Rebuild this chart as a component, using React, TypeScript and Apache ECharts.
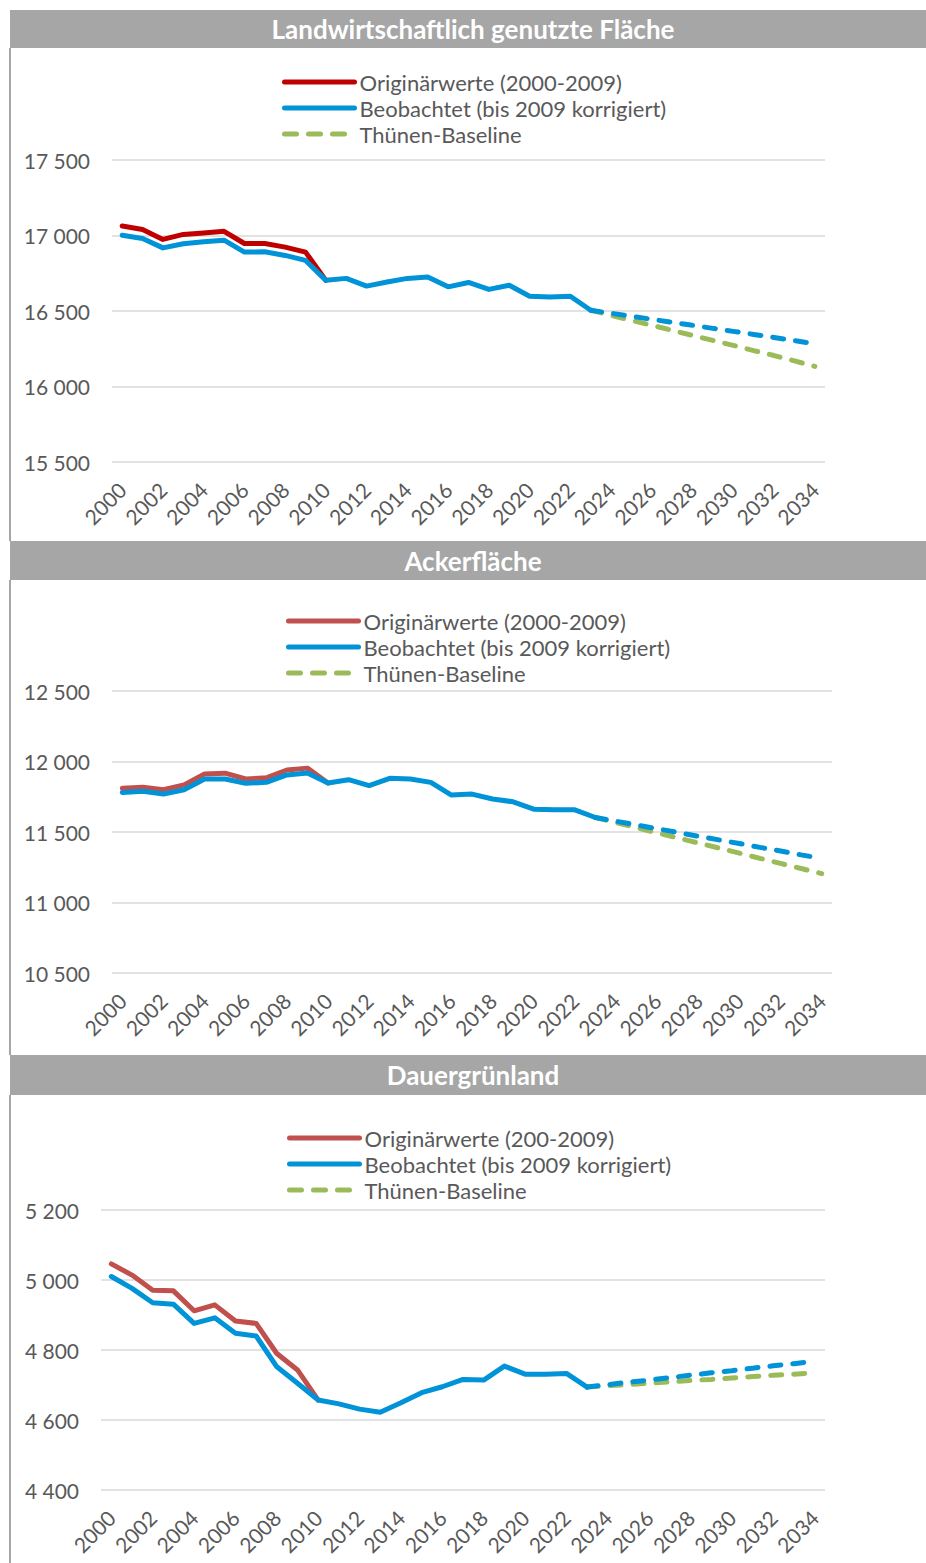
import React, { useEffect, useRef } from "react";
import * as echarts from "echarts";

const years = [
  "2000", "2001", "2002", "2003", "2004", "2005", "2006", "2007", "2008", "2009",
  "2010", "2011", "2012", "2013", "2014", "2015", "2016", "2017", "2018", "2019",
  "2020", "2021", "2022", "2023", "2024", "2025", "2026", "2027", "2028", "2029",
  "2030", "2031", "2032", "2033", "2034",
];

// Landwirtschaftlich genutzte Fläche (1000 ha)
const lfOriginal = [17063, 17040, 16974, 17007, 17017, 17028, 16947, 16947, 16923, 16890, 16703];
const lfObserved = [
  17002, 16980, 16918, 16945, 16958, 16969, 16890, 16892, 16868, 16835, 16703, 16716,
  16665, 16692, 16716, 16725, 16660, 16689, 16643, 16671, 16598, 16593, 16598, 16505,
];
const lfTrend = [16505, 16485, 16465, 16445, 16425, 16405, 16385, 16365, 16345, 16325, 16304, 16283];
const lfBaseline = [16505, 16471, 16438, 16405, 16372, 16338, 16305, 16272, 16238, 16205, 16170, 16133];

// Ackerfläche
const afOriginal = [11810, 11817, 11800, 11834, 11912, 11917, 11876, 11884, 11940, 11953, 11848];
const afObserved = [
  11781, 11789, 11769, 11800, 11876, 11876, 11845, 11852, 11905, 11919, 11848, 11871,
  11829, 11881, 11876, 11852, 11762, 11769, 11734, 11714, 11662, 11657, 11657, 11603,
];
const afTrend = [11603, 11576, 11550, 11523, 11497, 11470, 11444, 11418, 11391, 11365, 11338, 11312];
const afBaseline = [11603, 11567, 11531, 11494, 11458, 11422, 11386, 11350, 11313, 11277, 11241, 11205];

// Dauergrünland
const dgOriginal = [5046, 5014, 4971, 4969, 4912, 4929, 4883, 4876, 4790, 4743, 4657];
const dgObserved = [
  5010, 4976, 4935, 4931, 4876, 4892, 4848, 4840, 4752, 4705, 4657, 4646,
  4631, 4622, 4649, 4678, 4695, 4716, 4714, 4754, 4731, 4731, 4733, 4694,
];
const dgTrend = [4694, 4701, 4708, 4714, 4721, 4728, 4735, 4741, 4748, 4755, 4761, 4768];
const dgBaseline = [4694, 4698, 4701, 4705, 4709, 4713, 4716, 4720, 4724, 4728, 4731, 4735];

const titles = ["Landwirtschaftlich genutzte Fläche", "Ackerfläche", "Dauergrünland"];
const originalNames = ["Originärwerte (2000-2009)", "Originärwerte (2000-2009)", "Originärwerte (200-2009)"];
const observedName = "Beobachtet (bis 2009 korrigiert)";
const baselineName = "Thünen-Baseline";
const trendName = "Beobachtet (Fortschreibung)";

const FONT = "Lato, 'Open Sans', sans-serif";
const TEXT = "#595959";
const GRIDC = "#d9d9d9";
const HEADER = "#a6a6a6";
const BLUE = "#0093d7";
const GREEN = "#9bbb59";

const PROJ_START = 23; // index of 2023

function padStart(n: number, values: number[]) {
  return [...new Array(n).fill(null), ...values];
}

function fmt(v: number) {
  return String(v).replace(/\B(?=(\d{3})+(?!\d))/g, " ");
}

type Panel = {
  title: string;
  top: number;
  height: number;
  headerH: number;
  grid: { left: number; top: number; width: number; height: number };
  legendLeft: number;
  legendTop: number;
  min: number;
  max: number;
  interval: number;
  red: string;
  originalName: string;
  original: number[];
  observed: number[];
  trend: number[];
  baseline: number[];
};

const panels: Panel[] = [
  {
    title: titles[0], top: 0, height: 541, headerH: 48,
    grid: { left: 112, top: 160, width: 713, height: 302 },
    legendLeft: 282, legendTop: 71, min: 15500, max: 17500, interval: 500,
    red: "#c00000", originalName: originalNames[0],
    original: lfOriginal, observed: lfObserved, trend: lfTrend, baseline: lfBaseline,
  },
  {
    title: titles[1], top: 541, height: 514, headerH: 39,
    grid: { left: 112, top: 150, width: 720, height: 282 },
    legendLeft: 286, legendTop: 69, min: 10500, max: 12500, interval: 500,
    red: "#c0504d", originalName: originalNames[1],
    original: afOriginal, observed: afObserved, trend: afTrend, baseline: afBaseline,
  },
  {
    title: titles[2], top: 1055, height: 508, headerH: 40,
    grid: { left: 101, top: 155, width: 724, height: 280 },
    legendLeft: 287, legendTop: 72, min: 4400, max: 5200, interval: 200,
    red: "#c0504d", originalName: originalNames[2],
    original: dgOriginal, observed: dgObserved, trend: dgTrend, baseline: dgBaseline,
  },
];

function buildOption(p: Panel, first: boolean) {
  const headerY = first ? 10 : 0;
  const headerH = first ? p.headerH - 10 : p.headerH;
  return {
    animation: false,
    textStyle: { fontFamily: FONT },
    graphic: [
      {
        type: "rect",
        shape: { x: 10, y: headerY, width: 930, height: headerH },
        style: { fill: HEADER },
        silent: true,
      },
      {
        type: "text",
        x: 473,
        y: headerY + headerH / 2,
        style: {
          text: p.title,
          fill: "#ffffff",
          font: `bold 26px ${FONT}`,
          textAlign: "center",
          textVerticalAlign: "middle",
          align: "center",
          verticalAlign: "middle",
        },
        silent: true,
      },
      {
        type: "line",
        shape: { x1: 10, y1: headerY + headerH, x2: 10, y2: p.height },
        style: { stroke: HEADER, lineWidth: 2 },
        silent: true,
      },
    ],
    legend: {
      orient: "vertical",
      left: p.legendLeft,
      top: p.legendTop,
      itemWidth: 70,
      itemHeight: 5,
      itemGap: 4,
      padding: 0,
      selectedMode: false,
      textStyle: { fontSize: 22, color: TEXT, fontFamily: FONT, lineHeight: 22 },
      lineStyle: { width: 5, cap: "round" },
      data: [
        { name: p.originalName },
        { name: observedName },
        { name: baselineName, lineStyle: { width: 5, type: [12, 12], cap: "round" } },
      ],
    },
    grid: { ...p.grid },
    xAxis: {
      type: "category",
      data: years,
      boundaryGap: true,
      axisLine: { show: false },
      axisTick: { show: false },
      axisLabel: {
        interval: 1,
        rotate: 45,
        margin: 24,
        fontSize: 21,
        color: TEXT,
        fontFamily: FONT,
      },
      splitLine: { show: false },
    },
    yAxis: {
      type: "value",
      min: p.min,
      max: p.max,
      interval: p.interval,
      axisLine: { show: false },
      axisTick: { show: false },
      axisLabel: { fontSize: 21, color: TEXT, margin: 22, fontFamily: FONT, formatter: fmt },
      splitLine: { lineStyle: { color: GRIDC, width: 1.5 } },
    },
    series: [
      {
        name: p.originalName,
        type: "line",
        data: p.original,
        symbol: "none",
        color: p.red,
        lineStyle: { color: p.red, width: 5, cap: "round", join: "round" },
        z: 2,
      },
      {
        name: baselineName,
        type: "line",
        data: padStart(PROJ_START, p.baseline),
        symbol: "none",
        color: GREEN,
        lineStyle: { color: GREEN, width: 5, type: [11, 12], cap: "round" },
        z: 3,
      },
      {
        name: observedName,
        type: "line",
        data: p.observed,
        symbol: "none",
        color: BLUE,
        lineStyle: { color: BLUE, width: 5, cap: "round", join: "round" },
        z: 4,
      },
      {
        name: trendName,
        type: "line",
        data: padStart(PROJ_START, p.trend),
        symbol: "none",
        color: BLUE,
        lineStyle: { color: BLUE, width: 5, type: [11, 12], cap: "round" },
        z: 4,
      },
    ],
  };
}

function ChartPanel({ panel, first }: { panel: Panel; first: boolean }) {
  const ref = useRef<HTMLDivElement>(null);
  useEffect(() => {
    if (!ref.current) return;
    const chart = echarts.init(ref.current, undefined, { renderer: "svg" });
    chart.setOption(buildOption(panel, first) as any);
    return () => chart.dispose();
  }, [panel, first]);
  return (
    <div
      ref={ref}
      style={{ position: "absolute", left: 0, top: panel.top, width: 926, height: panel.height }}
    />
  );
}

export default function App() {
  return (
    <div style={{ position: "absolute", left: 0, top: 0, width: 926, height: 1563, background: "#fff" }}>
      {panels.map((p, i) => (
        <ChartPanel key={i} panel={p} first={i === 0} />
      ))}
    </div>
  );
}
